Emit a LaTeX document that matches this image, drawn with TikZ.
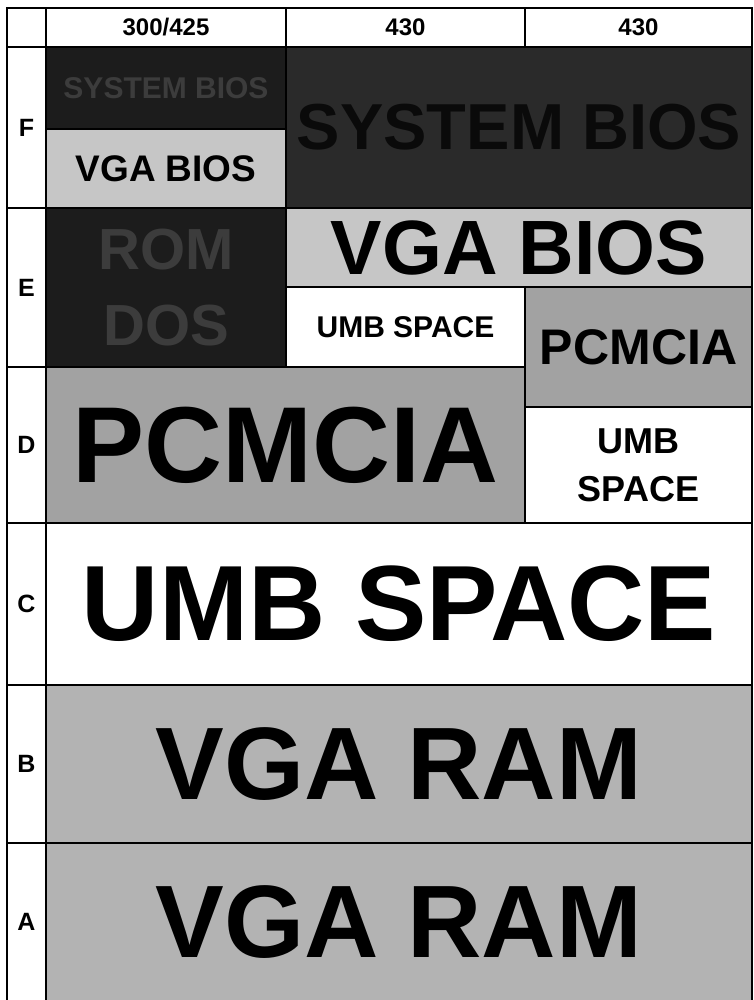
\documentclass[tikz,border=0pt]{standalone}
\usepackage{fontspec}
\setmainfont{Liberation Sans}
\newcommand{\fsz}[2]{\fontsize{#1}{#2}\selectfont}
\definecolor{darkbg}{HTML}{1C1C1C}
\definecolor{darktx}{HTML}{3C3C3C}
\definecolor{sysbg}{HTML}{2A2A2A}
\definecolor{systx}{HTML}{0A0A0A}
\definecolor{lightg}{HTML}{C6C6C6}
\definecolor{midg}{HTML}{A2A2A2}
\definecolor{ramg}{HTML}{B3B3B3}
\tikzset{
  cell/.style={draw=black, line width=1.8pt, rectangle, inner sep=0pt, outer sep=0pt, align=center, text=black},
}
\begin{document}
\begin{tikzpicture}[x=1pt,y=-1pt]
\useasboundingbox (0,0) rectangle (753,1000);
\fill[white] (0,0) rectangle (753,1000);
% header row
\node[cell, minimum width=39pt, minimum height=39pt] (corner) at (26.5,27.5) {};
\node[cell, minimum width=240pt, minimum height=39pt, font=\bfseries\fsz{24}{28}] (h1) at (166,27.5) {300/425};
\node[cell, minimum width=239pt, minimum height=39pt, font=\bfseries\fsz{24}{28}] (h2) at (405.5,27.5) {430};
\node[cell, minimum width=227pt, minimum height=39pt, font=\bfseries\fsz{24}{28}] (h3) at (638.5,27.5) {430};
% row labels
\node[cell, minimum width=39pt, minimum height=161pt, font=\bfseries\fsz{25}{28}] (lF) at (26.5,127.5) {F};
\node[cell, minimum width=39pt, minimum height=159pt, font=\bfseries\fsz{25}{28}] (lE) at (26.5,287.5) {E};
\node[cell, minimum width=39pt, minimum height=156pt, font=\bfseries\fsz{25}{28}] (lD) at (26.5,445) {D};
\node[cell, minimum width=39pt, minimum height=162pt, font=\bfseries\fsz{25}{28}] (lC) at (26.5,604) {C};
\node[cell, minimum width=39pt, minimum height=158pt, font=\bfseries\fsz{25}{28}] (lB) at (26.5,764) {B};
\node[cell, minimum width=39pt, minimum height=158pt, font=\bfseries\fsz{25}{28}] (lA) at (26.5,922) {A};
% F row
\node[cell, fill=darkbg, text=darktx, minimum width=240pt, minimum height=82pt, font=\bfseries\fsz{30}{34}] (fsys) at (166,88) {SYSTEM BIOS};
\node[cell, fill=lightg, minimum width=240pt, minimum height=79pt, font=\bfseries\fsz{37}{40}] (fvga) at (166,168.5) {VGA BIOS};
\node[cell, fill=sysbg, text=systx, minimum width=466pt, minimum height=161pt, font=\bfseries\fsz{65}{70}] (fbig) at (519,127.5) {SYSTEM BIOS};
% E row
\node[cell, fill=darkbg, text=darktx, minimum width=240pt, minimum height=159pt, font=\bfseries\fsz{58}{76}] (erom) at (166,287.5) {ROM\\DOS};
\node[cell, fill=lightg, minimum width=466pt, minimum height=79pt, font=\bfseries\fsz{77}{80}] (evga) at (519,247.5) {VGA BIOS};
\node[cell, fill=white, minimum width=239pt, minimum height=80pt, font=\bfseries\fsz{30}{34}] (eumb) at (405.5,327) {UMB SPACE};
\node[cell, fill=midg, minimum width=227pt, minimum height=120pt, font=\bfseries\fsz{50}{54}] (epc) at (638.5,347) {PCMCIA};
% D row
\node[cell, fill=midg, minimum width=479pt, minimum height=156pt, font=\bfseries\fsz{108}{110}] (dpc) at (285.5,445) {PCMCIA};
\node[cell, fill=white, minimum width=227pt, minimum height=116pt, font=\bfseries\fsz{36}{48}] (dumb) at (638.5,465) {UMB\\SPACE};
% C, B, A rows
\node[cell, fill=white, minimum width=706pt, minimum height=162pt, font=\bfseries\fsz{107}{110}] (cumb) at (399,604) {UMB SPACE};
\node[cell, fill=ramg, minimum width=706pt, minimum height=158pt, font=\bfseries\fsz{103}{106}] (bram) at (399,764) {VGA RAM};
\node[cell, fill=ramg, minimum width=706pt, minimum height=158pt, font=\bfseries\fsz{103}{106}] (aram) at (399,922) {VGA RAM};
\end{tikzpicture}
\end{document}
